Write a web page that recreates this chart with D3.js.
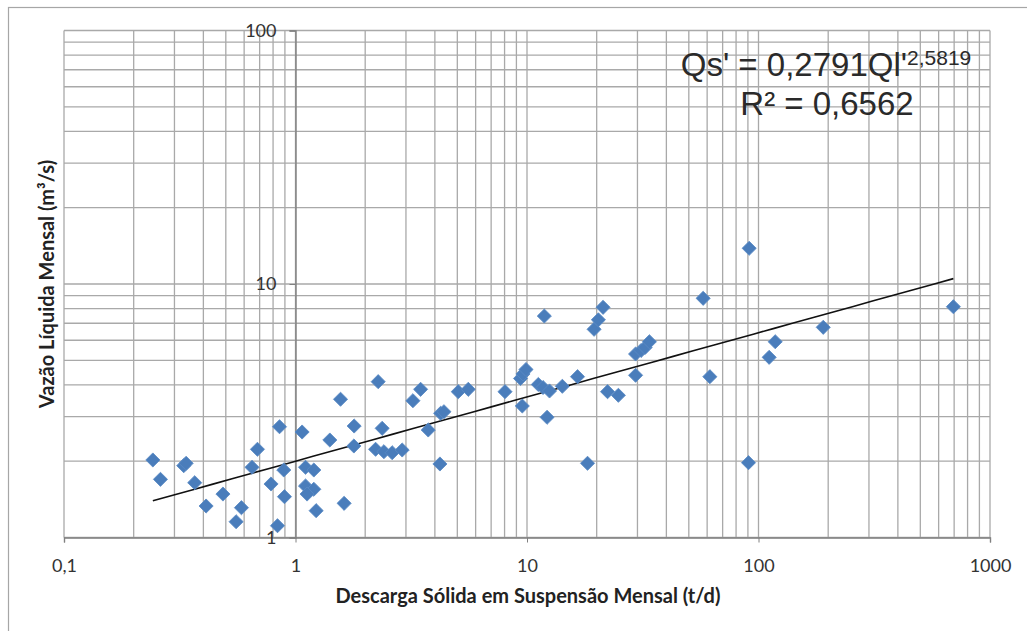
<!DOCTYPE html>
<html>
<head>
<meta charset="utf-8">
<script src="https://cdn.jsdelivr.net/npm/d3@7"></script>
<style>
  body { margin: 0; background: #fff; }
  text { font-family: Lato, "Open Sans", sans-serif; }
</style>
</head>
<body>
<svg></svg>
<script>
// descarga solida (t/d) x vazao liquida (m3/s)
var descarga = [0.242, 0.261, 0.329, 0.337, 0.367, 0.411, 0.486, 0.554, 0.584, 0.649,
  0.685, 0.784, 0.836, 0.853, 0.890, 0.896, 1.068, 1.105, 1.200, 1.105,
  1.200, 1.122, 1.228, 1.565, 1.407, 1.792, 1.787, 1.622, 2.276, 2.368,
  2.218, 2.409, 2.616, 2.890, 3.215, 3.471, 3.744, 4.236, 4.377, 4.206,
  5.047, 5.577, 8.035, 9.374, 9.610, 9.902, 9.543, 11.88, 11.19, 11.73,
  12.51, 12.21, 14.21, 16.53, 18.26, 19.49, 20.34, 21.31, 22.28, 24.81,
  29.45, 31.11, 32.37, 33.79, 29.45, 57.67, 91.16, 61.64, 118.1, 111.2,
  190.4, 694.7, 90.53];
var vazao = [2.022, 1.696, 1.920, 1.962, 1.645, 1.331, 1.484, 1.154, 1.311, 1.892,
  2.228, 1.626, 1.113, 2.735, 1.846, 1.449, 2.607, 1.892, 1.846, 1.597,
  1.550, 1.484, 1.276, 3.510, 2.424, 2.753, 2.296, 1.364, 4.118, 2.696,
  2.228, 2.180, 2.160, 2.214, 3.464, 3.842, 2.655, 3.090, 3.135, 1.950,
  3.760, 3.842, 3.760, 4.239, 4.416, 4.600, 3.302, 7.476, 4.014, 3.906,
  3.785, 2.980, 3.949, 4.309, 1.962, 6.627, 7.223, 8.091, 3.760, 3.639,
  5.295, 5.466, 5.616, 5.920, 4.364, 8.781, 13.83, 4.309, 5.920, 5.138,
  6.748, 8.136, 1.973];

// power trendline as drawn (y = a * x^b)
var trendA = 2.0;
var trendB = 0.2534;

var xTicks = [0.1, 1, 10, 100, 1000];
var xTickLabels = ["0,1", "1", "10", "100", "1000"];
var yTicks = [1, 10, 100];
var yTickLabels = ["1", "10", "100"];

var equationMain = "Qs' = 0,2791Ql'";
var equationExp = "2,5819";
var rSquared = "R² = 0,6562";

var xTitle = "Descarga Sólida em Suspensão Mensal (t/d)";
var yTitle = "Vazão Líquida Mensal (m³/s)";

var width = 1027,
  height = 631;

var svg = d3.select("svg")
  .attr("width", width)
  .attr("height", height);

// outer chart frame (cut off right/bottom like the picture)
svg.append("rect")
  .attr("x", 8.5)
  .attr("y", 7.5)
  .attr("width", 1040)
  .attr("height", 650)
  .style("fill", "none")
  .style("stroke", "#a6a6a6")
  .style("stroke-width", 1.2);

var x = d3.scaleLog().domain([0.1, 1000]).range([64, 990]);
var y = d3.scaleLog().domain([1, 100]).range([537.5, 30.5]);

var grid = svg.append("g").attr("class", "grid");

grid.selectAll("line.vx")
  .data(x.ticks())
  .enter().append("line")
  .attr("class", "vx")
  .attr("x1", function(d) { return x(d); })
  .attr("x2", function(d) { return x(d); })
  .attr("y1", y(100))
  .attr("y2", y(1))
  .style("stroke", "#a9a9a9")
  .style("stroke-width", 1.3);

grid.selectAll("line.hy")
  .data(y.ticks())
  .enter().append("line")
  .attr("class", "hy")
  .attr("x1", x(0.1))
  .attr("x2", x(1000))
  .attr("y1", function(d) { return y(d); })
  .attr("y2", function(d) { return y(d); })
  .style("stroke", "#a9a9a9")
  .style("stroke-width", 1.3);

// horizontal axis at the bottom, vertical axis crossing at x = 1
var xAxis = d3.axisBottom(x)
  .tickValues(xTicks)
  .tickSize(5)
  .tickFormat(function(d, i) { return xTickLabels[i]; });

var gx = svg.append("g")
  .attr("transform", "translate(0," + y(1) + ")")
  .call(xAxis);

gx.select(".domain").style("stroke", "#808080").style("stroke-width", 1.4);
gx.selectAll(".tick line").style("stroke", "#808080");
gx.selectAll(".tick text")
  .attr("y", 22)
  .attr("dy", "0.71em")
  .style("font-size", "18px")
  .style("fill", "#333");

var yAxis = d3.axisLeft(y)
  .tickValues(yTicks)
  .tickSize(6)
  .tickFormat(function(d, i) { return yTickLabels[i]; });

var gy = svg.append("g")
  .attr("transform", "translate(" + x(1) + ",0)")
  .call(yAxis);

gy.select(".domain").style("stroke", "#808080").style("stroke-width", 1.4);
gy.selectAll(".tick line").style("stroke", "#808080");
gy.selectAll(".tick text")
  .attr("x", -19)
  .style("font-size", "18px")
  .style("fill", "#333");

// trendline over the range of the data
var xExtent = d3.extent(descarga);
var trendPts = d3.range(0, 41).map(function(i) {
  var xv = Math.exp(Math.log(xExtent[0]) + i / 40 * (Math.log(xExtent[1]) - Math.log(xExtent[0])));
  return [xv, trendA * Math.pow(xv, trendB)];
});

var line = d3.line()
  .x(function(d) { return x(d[0]); })
  .y(function(d) { return y(d[1]); });

svg.append("path")
  .datum(trendPts)
  .attr("d", line)
  .style("fill", "none")
  .style("stroke", "#111")
  .style("stroke-width", 1.6);

// diamond markers
var diamond = d3.symbol().type(d3.symbolSquare).size(100);

svg.append("g")
  .selectAll("path")
  .data(descarga)
  .enter().append("path")
  .attr("d", diamond)
  .attr("transform", function(d, i) {
    return "translate(" + x(d) + "," + y(vazao[i]) + ") rotate(45)";
  })
  .style("fill", "#4a7dbb")
  .style("stroke", "#5a8ac4")
  .style("stroke-width", 0.8);

// trendline equation
var eq = svg.append("text")
  .attr("x", 826)
  .attr("y", 76)
  .attr("text-anchor", "middle")
  .style("font-family", "'Liberation Sans', Arial, sans-serif")
  .style("font-size", "33px")
  .style("fill", "#2a2a2a");

eq.append("tspan").text(equationMain);
eq.append("tspan")
  .attr("dy", -11)
  .style("font-size", "21px")
  .text(equationExp);

svg.append("text")
  .attr("x", 827)
  .attr("y", 115)
  .attr("text-anchor", "middle")
  .style("font-family", "'Liberation Sans', Arial, sans-serif")
  .style("font-size", "33px")
  .style("fill", "#2a2a2a")
  .text(rSquared);

// axis titles
svg.append("text")
  .attr("x", 528)
  .attr("y", 603)
  .attr("text-anchor", "middle")
  .style("font-size", "20px")
  .style("font-weight", "bold")
  .style("fill", "#222")
  .text(xTitle);

svg.append("text")
  .attr("transform", "translate(54," + 284 + ") rotate(-90)")
  .attr("text-anchor", "middle")
  .style("font-size", "20px")
  .style("font-weight", "bold")
  .style("fill", "#222")
  .text(yTitle);
</script>
</body>
</html>
